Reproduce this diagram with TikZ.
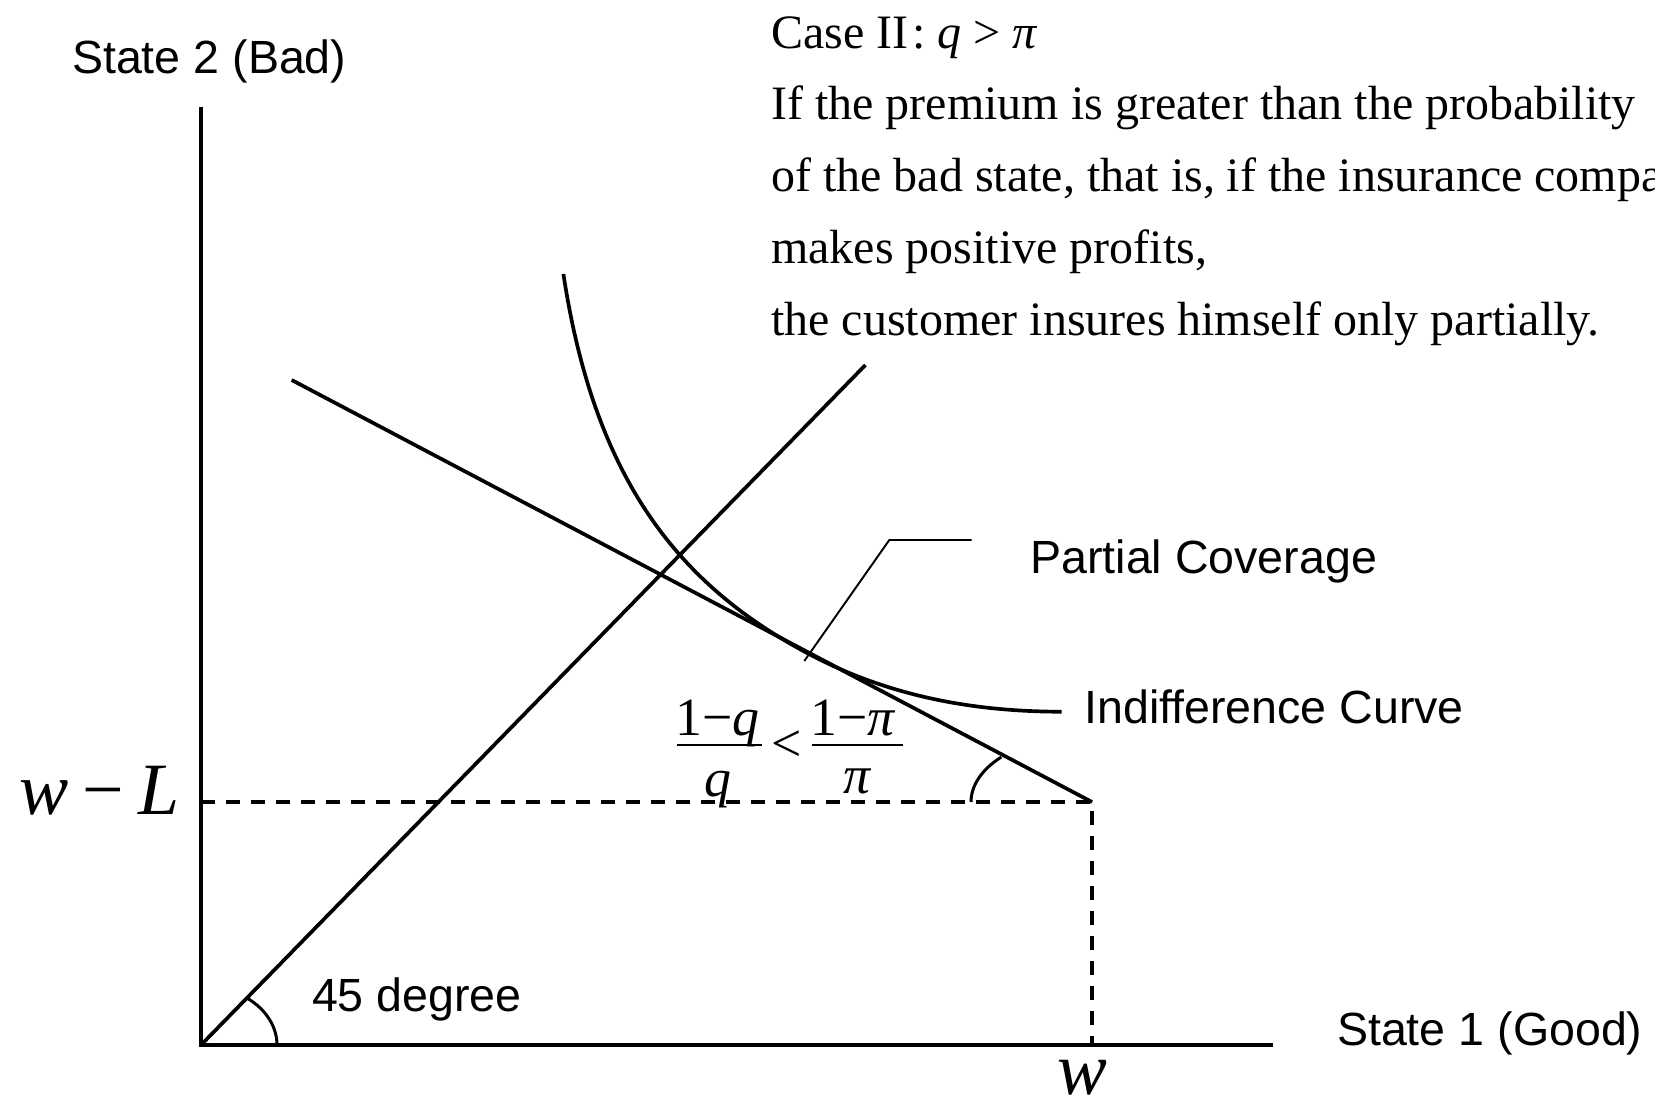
\documentclass[tikz,border=0pt]{standalone}
\usepackage{fontspec}
\setmainfont{Liberation Serif}
\setsansfont{Liberation Sans}
\usetikzlibrary{calc}

\tikzset{
  axisline/.style={line width=2.3pt},
  econline/.style={line width=2.1pt},
  guideline/.style={line width=1.9pt, dash pattern=on 0.28cm off 0.22cm},
  anglemark/.style={line width=1.7pt},
  leaderline/.style={line width=1.1pt},
  fracbar/.style={line width=1.3pt},
  sanslabel/.style={font=\sffamily\fontsize{26.5}{32}\selectfont, inner sep=0pt},
  noteblock/.style={font=\fontsize{27.3}{40.8}\selectfont, inner sep=0pt, align=left},
  fracpart/.style={font=\fontsize{30.6}{36}\selectfont, inner sep=0pt},
  mathlabel/.style={font=\fontsize{42}{48}\selectfont, inner sep=0pt}
}

\begin{document}
\begin{tikzpicture}[x=0.02cm,y=0.02cm]
\path[use as bounding box, clip] (0,0) rectangle (1655,-1099);

% points
\coordinate (O) at (201,-1045);
\coordinate (Ytop) at (201,-107);
\coordinate (Xend) at (1273,-1045);
\coordinate (W) at (1092,-1045);
\coordinate (K) at (1092,-802);
\coordinate (WL) at (201,-802);
\coordinate (B0) at (291.7,-380);
\coordinate (D1) at (865.4,-365);
\coordinate (IC0) at (563.4,-274);
\coordinate (T) at (809,-654);
\coordinate (IC1) at (1061.7,-711.7);
\coordinate (Lbend) at (889.3,-540);
\coordinate (Lend) at (971.7,-540);

% axes
\draw[axisline] (Ytop) -- (O) -- (Xend);

% endowment guides
\draw[guideline] (WL) -- (K) -- (W);

% budget line and 45 degree line
\draw[econline] (B0) -- (K);
\draw[econline] (O) -- (D1);

% indifference curve
\draw[econline] (IC0) .. controls (594.2,-476.7) and (676.4,-584) .. (T)
  .. controls (884,-693.7) and (966.7,-711.7) .. (IC1);

% angle marks
\draw[anglemark] ($(O)+(76,0)$) arc[start angle=0, end angle=52.8, x radius=1.52cm, y radius=1.18cm];
\draw[anglemark] ($(K)+(-121,0)$) arc[start angle=180, end angle=138.6, x radius=2.42cm, y radius=1.36cm];

% leader to label
\draw[leaderline] (804.3,-661) -- (Lbend) -- (Lend);

% labels
\node[sanslabel, anchor=base west] (state2) at (71.7,-73.3) {State 2 (Bad)};
\node[sanslabel, anchor=base west] (state1) at (1336.7,-1045) {State 1 (Good)};
\node[sanslabel, anchor=base west] (deg) at (311.7,-1011.7) {45 degree};
\node[sanslabel, anchor=base west] (partial) at (1030,-573.3) {Partial Coverage};
\node[sanslabel, anchor=base west] (indiff) at (1084,-723) {Indifference Curve};

\node[mathlabel, anchor=base west] (wminusL) at (19,-814) {\textit{w}\kern8pt−\kern8pt\textit{L}};
\node[mathlabel, font=\fontsize{42.5}{48}\selectfont, anchor=base] (wealth) at (1082,-1094) {\textit{w}};

\node[noteblock, anchor=base west] (casenote) at (771,-335) {Case II\kern2pt: \textit{q} > \textit{π}\\
If the premium is greater than the probability\\
of the bad state, that is, if the insurance company\\
makes positive profits,\\
the customer insures himself only partially.};

% slopes
\node[fracpart, anchor=base] (numL) at (717.5,-735) {1−\textit{q}};
\node[fracpart, anchor=base] (denL) at (718,-796) {\textit{q}};
\draw[fracbar] (676.7,-745) -- (761.7,-745);
\node[fracpart, anchor=base] (lessthan) at (786.5,-761) {<};
\node[fracpart, anchor=base] (numR) at (853,-735) {1−\textit{π}};
\node[fracpart, anchor=base] (denR) at (857.5,-793) {\textit{π}};
\draw[fracbar] (811.7,-745) -- (903.3,-745);

\end{tikzpicture}
\end{document}
